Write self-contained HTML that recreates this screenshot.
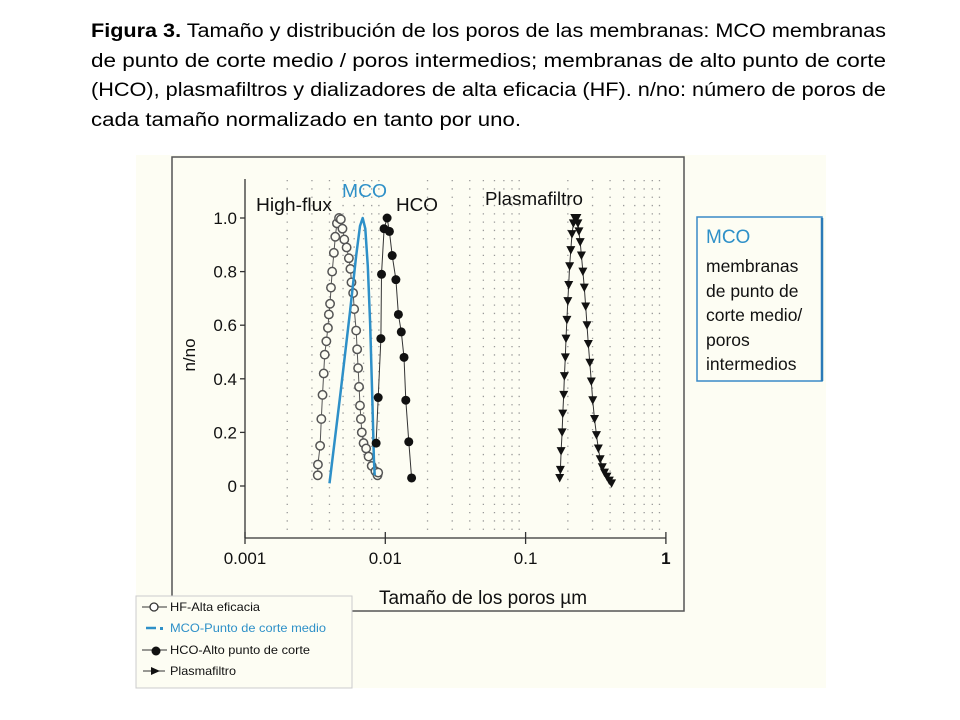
<!DOCTYPE html>
<html><head><meta charset="utf-8">
<style>
html,body{margin:0;padding:0;background:#fff;}
svg{display:block;font-family:"Liberation Sans",Arial,sans-serif;}
</style></head>
<body>
<svg id="fig" width="960" height="720" viewBox="0 0 960 720" xmlns="http://www.w3.org/2000/svg">
  <g font-size="19" fill="#000">
    <text x="91" y="37" textLength="795" lengthAdjust="spacingAndGlyphs"><tspan font-weight="bold">Figura 3.</tspan> Tamaño y distribución de los poros de las membranas: MCO membranas</text>
    <text x="91" y="67" textLength="795" lengthAdjust="spacingAndGlyphs">de punto de corte medio / poros intermedios; membranas de alto punto de corte</text>
    <text x="91" y="96" textLength="795" lengthAdjust="spacingAndGlyphs">(HCO), plasmafiltros y dializadores de alta eficacia (HF).  n/no: número de poros de</text>
    <text x="91" y="126" textLength="430" lengthAdjust="spacingAndGlyphs">cada tamaño normalizado en tanto por uno.</text>
  </g>
  <rect x="136" y="155" width="690" height="533" fill="#fdfdf3"/>
  <rect x="172" y="157" width="512" height="454" fill="none" stroke="#555" stroke-width="1.5"/>
  <g id="grid"></g>
  <g id="axes"></g>
  <g id="series"></g>
  <g font-size="18">
    <text x="256" y="211" fill="#111" textLength="76" lengthAdjust="spacingAndGlyphs">High-flux</text>
    <text x="342" y="197" fill="#2e90c8" textLength="45" lengthAdjust="spacingAndGlyphs">MCO</text>
    <text x="396" y="211" fill="#111" textLength="42" lengthAdjust="spacingAndGlyphs">HCO</text>
    <text x="485" y="205" fill="#111" textLength="98" lengthAdjust="spacingAndGlyphs">Plasmafiltro</text>
  </g>
  <text x="195" y="355" font-size="17" fill="#111" text-anchor="middle" transform="rotate(-90 195 355)">n/no</text>
  <text x="483" y="604" font-size="19" fill="#111" text-anchor="middle" textLength="208" lengthAdjust="spacingAndGlyphs">Tamaño de los poros µm</text>

  <g>
    <rect x="697" y="217" width="125" height="164" fill="#fdfdf3" stroke="#3a8ac8" stroke-width="1.5"/>
    <line x1="822" y1="218" x2="822" y2="381" stroke="#2a7ab8" stroke-width="2.5"/>
    <text x="706" y="243" font-size="19" fill="#2e90c8">MCO</text>
    <g font-size="17.5" fill="#111">
      <text x="706" y="272">membranas</text>
      <text x="706" y="297">de punto de</text>
      <text x="706" y="321">corte medio/</text>
      <text x="706" y="346">poros</text>
      <text x="706" y="370">intermedios</text>
    </g>
  </g>

  <g>
    <rect x="136" y="596" width="216" height="92" fill="#fdfdf3" stroke="#ccc" stroke-width="1"/>
    <g>
      <line x1="142" y1="607" x2="167" y2="607" stroke="#333" stroke-width="1"/>
      <circle cx="154" cy="607" r="4" fill="#fff" stroke="#333" stroke-width="1.3"/>
      <text x="170" y="611" font-size="12" fill="#111" textLength="90" lengthAdjust="spacingAndGlyphs">HF-Alta eficacia</text>
    </g>
    <g>
      <line x1="146" y1="628" x2="156" y2="628" stroke="#2e90c8" stroke-width="2.5"/>
      <rect x="160" y="627" width="3" height="3" fill="#2e90c8"/>
      <text x="170" y="632" font-size="12" fill="#2e90c8" textLength="156" lengthAdjust="spacingAndGlyphs">MCO-Punto de corte medio</text>
    </g>
    <g>
      <line x1="142" y1="650" x2="167" y2="650" stroke="#333" stroke-width="1"/>
      <circle cx="156" cy="651" r="4.5" fill="#111"/>
      <text x="170" y="654" font-size="12" fill="#111" textLength="140" lengthAdjust="spacingAndGlyphs">HCO-Alto punto de corte</text>
    </g>
    <g>
      <line x1="143" y1="671" x2="165" y2="671" stroke="#333" stroke-width="1"/>
      <polygon points="151,667 160,671 151,675" fill="#111"/>
      <text x="170" y="675" font-size="12" fill="#111" textLength="66" lengthAdjust="spacingAndGlyphs">Plasmafiltro</text>
    </g>
  </g>
</svg>
<script>
const xTicks = [0.001, 0.01, 0.1, 1];
const xTickLabels = ["0.001", "0.01", "0.1", "1"];
const yTicks = [0, 0.2, 0.4, 0.6, 0.8, 1.0];
const yTickLabels = ["0", "0.2", "0.4", "0.6", "0.8", "1.0"];

const hfSize = [0.0033,0.00331,0.00343,0.0035,0.00357,0.00364,0.0037,0.0038,0.0039,0.00396,0.00404,0.0041,0.00418,0.0043,0.0044,0.00452,0.00468,0.00482,0.00495,0.0051,0.0053,0.0055,0.00564,0.00574,0.0059,0.006,0.0062,0.0063,0.0064,0.0065,0.0066,0.0067,0.0068,0.0070,0.0073,0.0076,0.0080,0.0085,0.0088,0.0089];
const hfValue = [0.04,0.08,0.15,0.25,0.34,0.42,0.49,0.54,0.59,0.64,0.68,0.74,0.8,0.87,0.93,0.98,1.0,0.995,0.96,0.92,0.89,0.85,0.81,0.76,0.72,0.66,0.58,0.51,0.44,0.37,0.30,0.25,0.20,0.16,0.14,0.11,0.075,0.055,0.04,0.05];

const mcoSize = [0.004,0.0048,0.0056,0.0062,0.0066,0.0069,0.0072,0.0075,0.0078,0.0081,0.0083,0.0084];
const mcoValue = [0.01,0.35,0.65,0.86,0.97,1.0,0.96,0.82,0.6,0.3,0.1,0.04];

const hcoSize = [0.0086,0.0089,0.0093,0.0094,0.0098,0.0103,0.0107,0.0112,0.0119,0.0124,0.013,0.0136,0.014,0.0147,0.0154];
const hcoValue = [0.16,0.33,0.55,0.79,0.96,1.0,0.95,0.86,0.77,0.64,0.575,0.48,0.32,0.165,0.03];

const plasmaSize = [0.175,0.177,0.179,0.182,0.184,0.187,0.189,0.192,0.194,0.197,0.2,0.203,0.206,0.21,0.214,0.219,0.224,0.232,0.236,0.24,0.245,0.25,0.256,0.262,0.268,0.274,0.28,0.287,0.294,0.301,0.31,0.32,0.33,0.34,0.352,0.365,0.38,0.395,0.41];
const plasmaValue = [0.03,0.06,0.13,0.2,0.27,0.34,0.41,0.48,0.55,0.62,0.69,0.75,0.82,0.88,0.94,0.98,1.0,1.0,0.98,0.95,0.91,0.86,0.8,0.74,0.67,0.6,0.53,0.46,0.39,0.32,0.25,0.19,0.14,0.1,0.07,0.05,0.035,0.02,0.01];

const NS = "http://www.w3.org/2000/svg";
const X0 = 245, DEC = 140.3, Y0 = 486, YH = 268, AXY = 538;
function xs(v){ return X0 + (Math.log10(v) + 3) * DEC; }
function ys(v){ return Y0 - v * YH; }
function mk(tag, attrs, parent){
  const e = document.createElementNS(NS, tag);
  for (const k in attrs) e.setAttribute(k, attrs[k]);
  parent.appendChild(e);
  return e;
}

// grid
const grid = document.getElementById('grid');
for (let d = -3; d < 0; d++) {
  for (let m = 2; m <= 9; m++) {
    const x = xs(m * Math.pow(10, d));
    const l = mk('line', {x1:x, y1:180, x2:x, y2:530, stroke:'#999', 'stroke-width':1.3, 'stroke-dasharray':'1.3 7'}, grid);
    
    
  }
}

// axes
const axes = document.getElementById('axes');
const ya = mk('line', {x1:X0, y1:179, x2:X0, y2:AXY, stroke:'#333', 'stroke-width':1.3}, axes);


const xa = mk('line', {x1:X0, y1:AXY, x2:xs(1), y2:AXY, stroke:'#333', 'stroke-width':1.3}, axes);


yTicks.forEach((v, i) => {
  const y = ys(v);
  mk('line', {x1:X0-5, y1:y, x2:X0, y2:y, stroke:'#333', 'stroke-width':1.3}, axes);
  const t = mk('text', {x:X0-8, y:y+6, 'font-size':17, 'text-anchor':'end', fill:'#111'}, axes);
  t.textContent = yTickLabels[i];
  
  
});
xTicks.forEach((v, i) => {
  const x = xs(v);
  mk('line', {x1:x, y1:AXY-6, x2:x, y2:AXY+6, stroke:'#333', 'stroke-width':1.3}, axes);
  const t = mk('text', {x:x, y:564, 'font-size':17, 'text-anchor':'middle', fill:'#111'}, axes);
  if (i === 3) t.setAttribute('font-weight', 'bold');
  t.textContent = xTickLabels[i];
  
  
});

// series
const series = document.getElementById('series');
function pathOf(sx, sy){ return sx.map((v,i)=>(i?'L':'M')+xs(v).toFixed(1)+' '+ys(sy[i]).toFixed(1)).join(' '); }

const hfLine = mk('path', {d:pathOf(hfSize,hfValue), fill:'none', stroke:'#555', 'stroke-width':1}, series);


hfSize.forEach((v,i)=>{
  const c = mk('circle', {cx:xs(v), cy:ys(hfValue[i]), r:4.2, fill:'#fdfdf3', stroke:'#555', 'stroke-width':1.5}, series);
  
  
});

const mcoLine = mk('path', {d:pathOf(mcoSize,mcoValue), fill:'none', stroke:'#2e90c8', 'stroke-width':2.5, 'stroke-linejoin':'round'}, series);



const hcoLine = mk('path', {d:pathOf(hcoSize,hcoValue), fill:'none', stroke:'#333', 'stroke-width':1}, series);


hcoSize.forEach((v,i)=>{
  const c = mk('circle', {cx:xs(v), cy:ys(hcoValue[i]), r:4.5, fill:'#111'}, series);
  
  
});

const plLine = mk('path', {d:pathOf(plasmaSize,plasmaValue), fill:'none', stroke:'#333', 'stroke-width':1}, series);


plasmaSize.forEach((v,i)=>{
  const x = xs(v), y = ys(plasmaValue[i]);
  const p = mk('polygon', {points:`${x-4.5},${y-4} ${x+4.5},${y-4} ${x},${y+4.5}`, fill:'#111'}, series);
  
  
});
</script>
</body></html>
